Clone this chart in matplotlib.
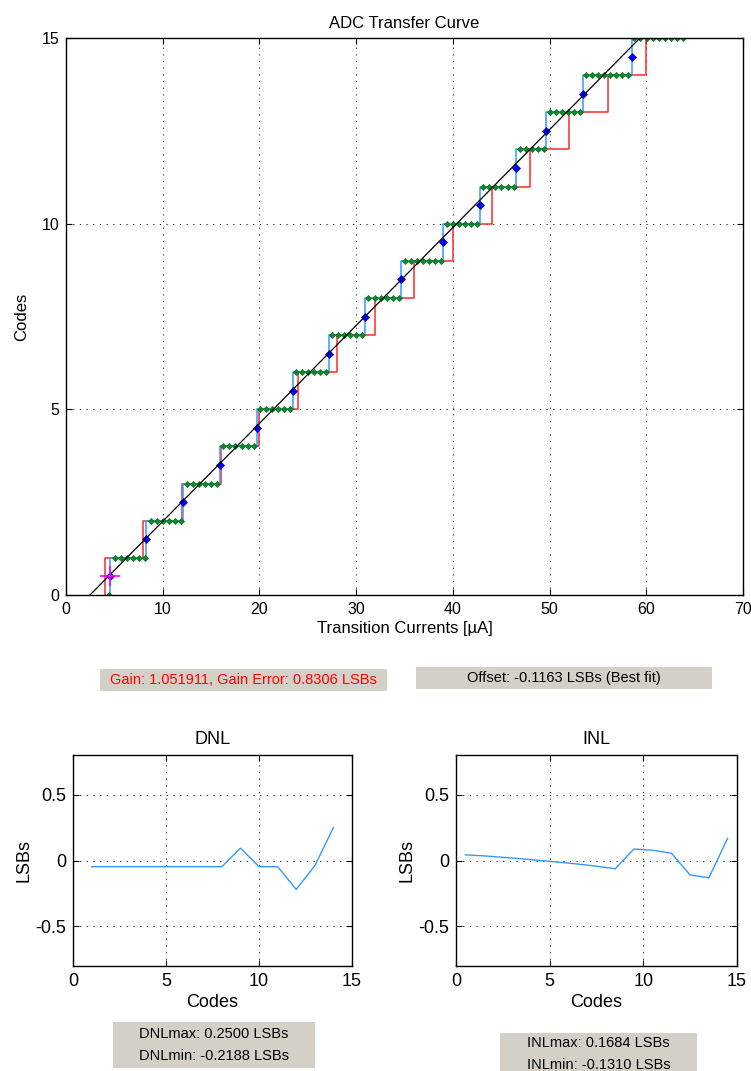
import matplotlib
matplotlib.use("Agg")
import matplotlib.pyplot as plt
from matplotlib.patches import Rectangle

plt.rcParams['font.family'] = ['Liberation Sans', 'DejaVu Sans']

# ---------------- data ----------------
# measured transition currents (uA) for codes 1..15
transition_currents = [4.55, 8.30, 12.10, 15.90, 19.70, 23.45, 27.15, 30.90,
                       34.65, 39.00, 42.80, 46.50, 49.60, 53.45, 58.50]
# ideal transition currents (uA) for codes 1..15
ideal_transitions = [4, 8, 12, 16, 20, 24, 28, 32, 36, 40, 44, 48, 52, 56, 60]
codes = list(range(0, 16))

# swept input currents and the resulting output codes
sweep_currents = [4.400, 5.025, 5.650, 6.275, 6.900, 7.525, 8.150, 8.775, 9.400,
                  10.025, 10.650, 11.275, 11.900, 12.525, 13.150, 13.775, 14.400,
                  15.025, 15.650, 16.275, 16.900, 17.525, 18.150, 18.775, 19.400,
                  20.025, 20.650, 21.275, 21.900, 22.525, 23.150, 23.775, 24.400,
                  25.025, 25.650, 26.275, 26.900, 27.525, 28.150, 28.775, 29.400,
                  30.025, 30.650, 31.275, 31.900, 32.525, 33.150, 33.775, 34.400,
                  35.025, 35.650, 36.275, 36.900, 37.525, 38.150, 38.775, 39.400,
                  40.025, 40.650, 41.275, 41.900, 42.525, 43.150, 43.775, 44.400,
                  45.025, 45.650, 46.275, 46.900, 47.525, 48.150, 48.775, 49.400,
                  50.025, 50.650, 51.275, 51.900, 52.525, 53.150, 53.775, 54.400,
                  55.025, 55.650, 56.275, 56.900, 57.525, 58.150, 58.775, 59.400,
                  60.025, 60.650, 61.275, 61.900, 62.525, 63.150, 63.775]
sweep_codes = [0,
               1, 1, 1, 1, 1, 1,
               2, 2, 2, 2, 2, 2,
               3, 3, 3, 3, 3, 3,
               4, 4, 4, 4, 4, 4,
               5, 5, 5, 5, 5, 5,
               6, 6, 6, 6, 6, 6,
               7, 7, 7, 7, 7, 7,
               8, 8, 8, 8, 8, 8,
               9, 9, 9, 9, 9, 9, 9,
               10, 10, 10, 10, 10, 10,
               11, 11, 11, 11, 11, 11,
               12, 12, 12, 12, 12,
               13, 13, 13, 13, 13, 13,
               14, 14, 14, 14, 14, 14, 14, 14,
               15, 15, 15, 15, 15, 15, 15, 15, 15]

# transition mid points (code - 0.5)
mid_codes = [0.5, 1.5, 2.5, 3.5, 4.5, 5.5, 6.5, 7.5, 8.5, 9.5, 10.5, 11.5, 12.5, 13.5, 14.5]

# best-fit line end points
fit_currents = [2.48, 59.35]
fit_codes = [0, 15]

# offset marker
offset_current = [4.55]
offset_code = [0.5]

# DNL / INL
dnl_codes = [1, 2, 3, 4, 5, 6, 7, 8, 9, 10, 11, 12, 13, 14]
dnl_values = [-0.047, -0.047, -0.047, -0.047, -0.047, -0.047, -0.047, -0.047,
              0.094, -0.047, -0.047, -0.2188, -0.04, 0.25]
inl_codes = [0.5, 1.5, 2.5, 3.5, 4.5, 5.5, 6.5, 7.5, 8.5, 9.5, 10.5, 11.5, 12.5, 13.5, 14.5]
inl_values = [0.043, 0.035, 0.024, 0.013, 0.0, -0.013, -0.027, -0.043, -0.063,
              0.087, 0.078, 0.055, -0.11, -0.131, 0.1684]

main_xticks = [0, 10, 20, 30, 40, 50, 60, 70]
main_yticks = [0, 5, 10, 15]
sub_xticks = [0, 5, 10, 15]
sub_yticks = [-0.5, 0, 0.5]
sub_yticklabels = ['-0.5', '0', '0.5']

gain_text = "Gain: 1.051911, Gain Error: 0.8306 LSBs"
offset_text = "Offset: -0.1163 LSBs (Best fit)"
dnl_text = "DNLmax: 0.2500 LSBs\nDNLmin: -0.2188 LSBs"
inl_text = "INLmax: 0.1684 LSBs\nINLmin: -0.1310 LSBs"

# ---------------- figure ----------------
W, H = 751, 1071
fig = plt.figure(figsize=(W / 100, H / 100), dpi=100)


def ax_rect(l, t, r, b):
    return [l / W, 1 - b / H, (r - l) / W, (b - t) / H]


GRID = dict(color='black', linestyle=(0, (1.5, 6.5)), linewidth=0.6)


def style(ax, fs):
    ax.tick_params(direction='in', top=True, right=True, length=4, width=0.8,
                   labelsize=fs, pad=5)
    for s in ax.spines.values():
        s.set_linewidth(1.0)
        s.set_zorder(10)
    ax.grid(True, **GRID)
    ax.set_axisbelow(True)


# main axes
ax = fig.add_axes(ax_rect(66, 38, 743, 595))
red_x = [ideal_transitions[0]] + ideal_transitions
ax.plot(red_x, codes, drawstyle='steps-post', color='#ff2a2a', lw=1.1, zorder=2)
blue_x = [transition_currents[0]] + transition_currents + [sweep_currents[-1]]
ax.plot(blue_x, codes + [15], drawstyle='steps-post', color='#3399ff', lw=1.1, zorder=3)
ax.plot(sweep_currents, sweep_codes, linestyle='none', marker='D', ms=3.1,
        color='#0f8a2c', mec='#0b6e22', mew=0.5, zorder=4)
ax.plot(transition_currents, mid_codes, linestyle='none', marker='D', ms=3.6,
        color='#0000ff', mec='#0000cc', mew=0.5, zorder=5)
ax.plot(fit_currents, fit_codes, color='black', lw=0.9, zorder=6)
ax.plot(offset_current, offset_code, linestyle='none', marker='+', ms=14, mew=1.2,
        color='#ff00ff', zorder=7)
ax.set_xlim(0, 70)
ax.set_ylim(0, 15)
ax.set_xticks(main_xticks)
ax.set_yticks(main_yticks)
style(ax, 11.5)
ax.set_title("ADC Transfer Curve", fontsize=12, pad=7)
ax.set_xlabel("Transition Currents [\u00b5A]", fontsize=12, labelpad=3)
ax.set_ylabel("Codes", fontsize=12, labelpad=9)

# DNL
ax2 = fig.add_axes(ax_rect(73, 755, 352, 966))
ax2.plot(dnl_codes, dnl_values, color='#3399ff', lw=1.0)
ax2.set_xlim(0, 15)
ax2.set_ylim(-0.8, 0.8)
ax2.set_xticks(sub_xticks)
ax2.set_yticks(sub_yticks)
ax2.set_yticklabels(sub_yticklabels)
style(ax2, 13)
ax2.set_title("DNL", fontsize=13, pad=8)
ax2.set_xlabel("Codes", fontsize=13, labelpad=3)
ax2.set_ylabel("LSBs", fontsize=13, labelpad=2)

# INL
ax3 = fig.add_axes(ax_rect(456, 755, 737, 966))
ax3.plot(inl_codes, inl_values, color='#3399ff', lw=1.0)
ax3.set_xlim(0, 15)
ax3.set_ylim(-0.8, 0.8)
ax3.set_xticks(sub_xticks)
ax3.set_yticks(sub_yticks)
ax3.set_yticklabels(sub_yticklabels)
style(ax3, 13)
ax3.set_title("INL", fontsize=13, pad=8)
ax3.set_xlabel("Codes", fontsize=13, labelpad=3)
ax3.set_ylabel("LSBs", fontsize=13, labelpad=2)


# text boxes
def box(l, t, r, b, text, color, fs, ls=1.5):
    fig.patches.append(Rectangle((l / W, 1 - b / H), (r - l) / W, (b - t) / H,
                                 transform=fig.transFigure, facecolor='#d4d0c8',
                                 edgecolor='none', zorder=0))
    fig.text((l + r) / 2 / W, 1 - (t + b) / 2 / H, text, ha='center', va='center',
             color=color, fontsize=fs, linespacing=ls)


box(100, 669, 387, 691, gain_text, '#ff0000', 10.5)
box(416, 667, 712, 689, offset_text, 'black', 10.5)
box(113, 1022, 315, 1068, dnl_text, 'black', 10.5, 1.8)
box(500, 1033, 697, 1075, inl_text, 'black', 10.5, 1.8)

fig.savefig("out.png", dpi=100)
